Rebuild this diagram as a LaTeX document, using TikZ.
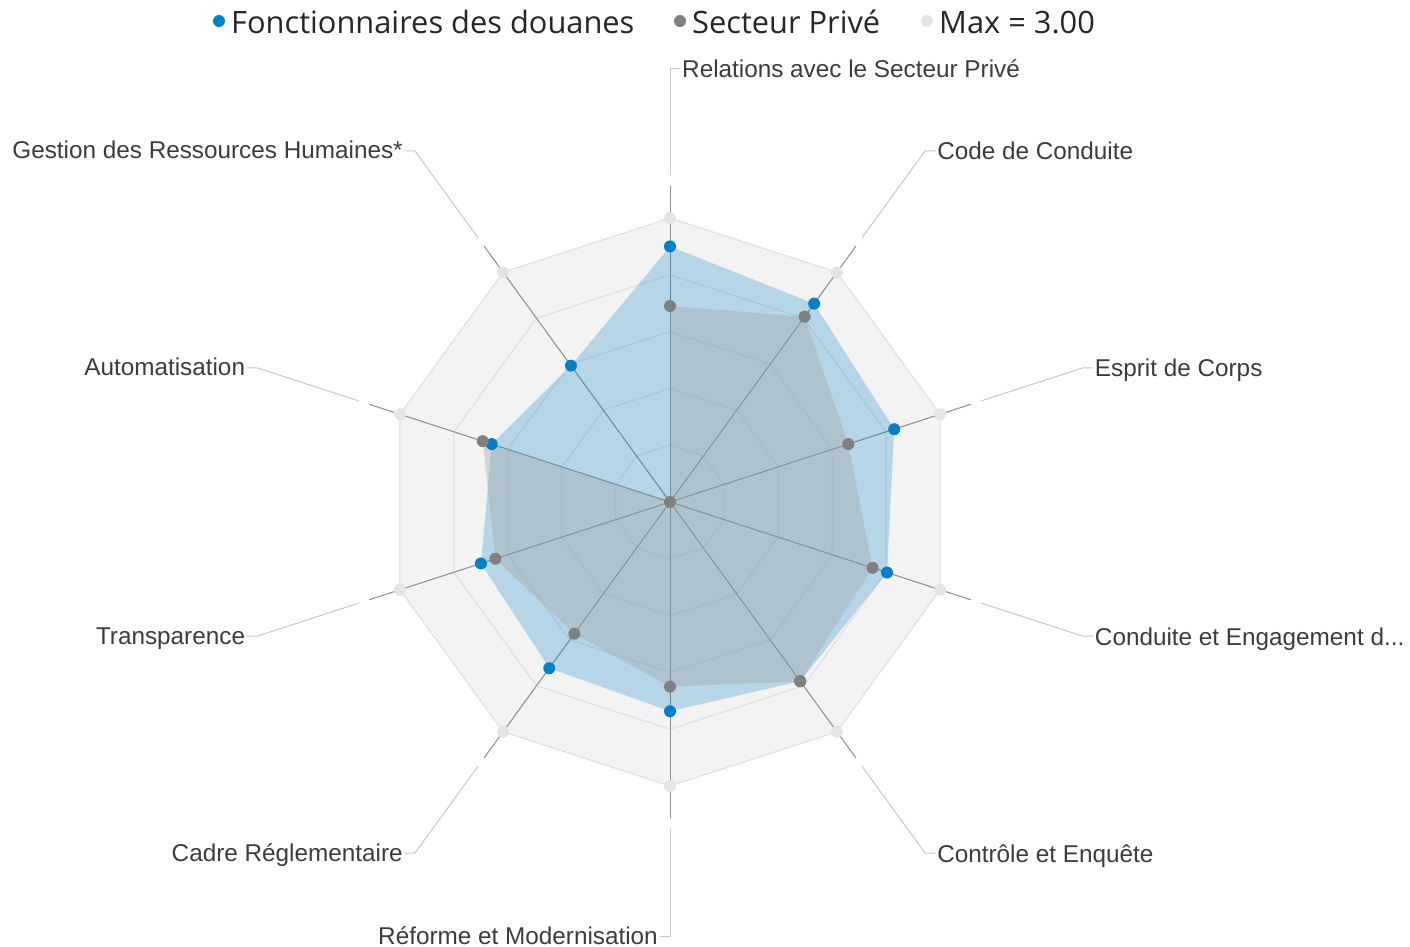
\documentclass[tikz,border=0pt]{standalone}
\usepackage{fontspec}
\setmainfont{Liberation Sans}
\newfontfamily\legendfont{Open Sans}
\definecolor{douane}{RGB}{0,128,200}
\definecolor{prive}{RGB}{128,128,128}
\definecolor{privefill}{RGB}{165,165,165}
\definecolor{gridfill}{RGB}{243,243,243}
\definecolor{maxdot}{RGB}{228,228,228}
\definecolor{labeltext}{RGB}{60,60,60}
\tikzset{
  axislabel/.style={font=\fontsize{24.3}{29}\selectfont, text=labeltext, inner sep=0pt},
  legendtext/.style={font=\legendfont\fontsize{30.8}{36}\selectfont, text=black!85, inner sep=0pt, anchor=base west},
  mdot/.style={circle, fill=#1, inner sep=0pt, minimum size=12pt},
  ring/.style={draw=black!13, line width=1pt},
  axisline/.style={draw=black!45, line width=1pt},
  leader/.style={draw=black!22, line width=1pt},
}
\begin{document}
\begin{tikzpicture}[x=1pt,y=-1pt, line join=round, line cap=round]
    \useasboundingbox (0,0) rectangle (1410,946);
    \def\u{94.67} \def\rmax{284} \def\ra{316} \def\rb{327} \def\rc{434}
    % legend
    \node[mdot=douane] (m1) at (219,21) {};
    \node[legendtext] (t1) at (231,33) {Fonctionnaires des douanes};
    \node[mdot=prive] (m2) at (680,21) {};
    \node[legendtext] (t2) at (692,33) {Secteur Privé};
    \node[mdot=maxdot] (m3) at (927,21) {};
    \node[legendtext] (t3) at (939,33) {Max = 3.00};
    \begin{scope}[shift={(670,502)}]
        \coordinate (o) at (0,0);
        % grid
        \fill[gridfill] (-90:\rmax) \foreach \k in {1,...,9}{ -- (-90+36*\k:\rmax)} -- cycle;
        \foreach \s in {1,...,5}
        \draw[ring] (-90:\s*\rmax/5) \foreach \k in {1,...,9}{ -- (-90+36*\k:\s*\rmax/5)} -- cycle;
        \foreach \k in {0,...,9}
        \draw[axisline] (o) -- (-90+36*\k:\ra);
        \foreach \k in {0,...,9}
        \node[mdot=maxdot] (x\k) at (-90+36*\k:\rmax) {};
        % data
        \foreach \k/\v in {0/2.70,1/2.59,2/2.49,3/2.41,4/2.34,5/2.21,6/2.17,7/2.10,8/1.98,9/1.78}
        \coordinate (b\k) at (-90+36*\k:\v*\u);
        \foreach \k/\v in {0/2.07,1/2.42,2/1.98,3/2.25,4/2.34,5/1.95,6/1.72,7/1.94,8/2.08,9/0}
        \coordinate (g\k) at (-90+36*\k:\v*\u);
        \fill[douane, fill opacity=0.25] (b0) \foreach \k in {1,...,9}{ -- (b\k)} -- cycle;
        \fill[privefill, fill opacity=0.375] (g0) \foreach \k in {1,...,9}{ -- (g\k)} -- cycle;
        \foreach \k in {0,...,9}
        \node[mdot=douane] (bd\k) at (b\k) {};
        \foreach \k in {0,...,9}
        \node[mdot=prive] (gd\k) at (g\k) {};
        % labels
        \foreach \k/\txt in {0/Relations avec le Secteur Privé,1/Code de Conduite,2/Esprit de Corps,3/{Conduite et Engagement d.{}.{}.},4/Contrôle et Enquête}{
            \coordinate (a\k) at (-90+36*\k:\rb);
            \coordinate (e\k) at (-90+36*\k:\rc);
            \path (e\k) ++(10,0) coordinate (h\k);
            \node[axislabel, anchor=base west, xshift=2pt, yshift=-9pt] (l\k) at (h\k) {\txt};
            \draw[leader] (a\k) -- (e\k) -- (h\k);
        }
        \foreach \k/\txt in {5/Réforme et Modernisation,6/Cadre Réglementaire,7/Transparence,8/Automatisation,9/Gestion des Ressources Humaines*}{
            \coordinate (a\k) at (-90+36*\k:\rb);
            \coordinate (e\k) at (-90+36*\k:\rc);
            \path (e\k) ++(-10,0) coordinate (h\k);
            \node[axislabel, anchor=base east, xshift=-2pt, yshift=-8pt] (l\k) at (h\k) {\txt};
            \draw[leader] (a\k) -- (e\k) -- (h\k);
        }
    \end{scope}
\end{tikzpicture}
\end{document}
